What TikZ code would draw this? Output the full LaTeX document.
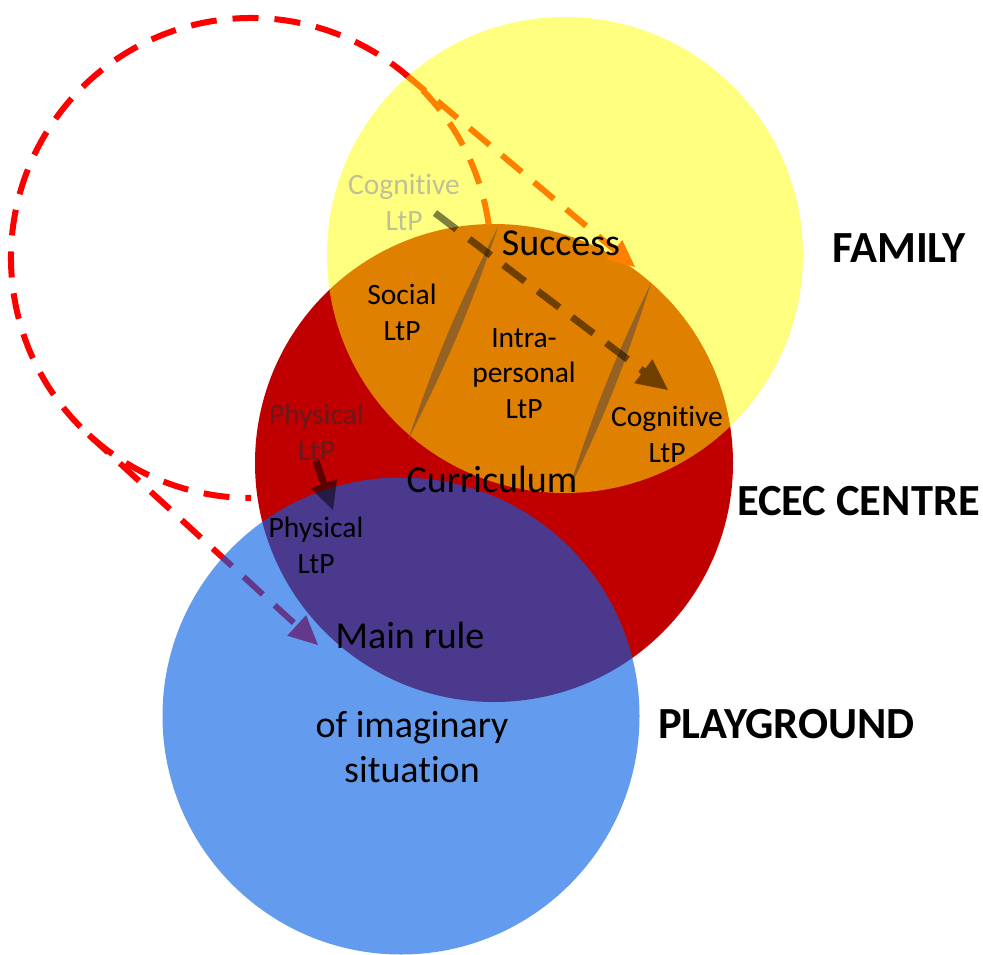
\documentclass[tikz,border=0pt]{standalone}
\usepackage{fontspec}
\setmainfont{Carlito}[Ligatures=NoCommon]
\usetikzlibrary{arrows.meta,calc}
\definecolor{ececred}{RGB}{192,0,0}
\definecolor{famyellow}{RGB}{255,255,0}
\definecolor{playblue}{RGB}{0,94,230}
\definecolor{loopred}{RGB}{255,0,0}
\definecolor{lensbrown}{RGB}{150,98,35}
\definecolor{fadedgrey}{RGB}{192,192,152}
\definecolor{fadedred}{RGB}{105,25,30}
\begin{document}
\begin{tikzpicture}[x=1pt,y=-1pt,
  setting/.style={circle,inner sep=0pt,minimum size=#1},
  redline/.style={draw=loopred,line width=6pt,dash pattern=on 26pt off 16pt},
  darkline/.style={draw=black,line width=7pt,opacity=0.5,dash pattern=on 27pt off 16pt},
  lens/.style={fill=lensbrown},
  small/.style={font=\fontsize{29.5}{35.5}\selectfont,align=center,inner sep=0pt,anchor=base},
  big/.style={font=\fontsize{38}{45}\selectfont,align=center,inner sep=0pt,anchor=base},
  place/.style={font=\fontsize{44.5}{52}\selectfont\bfseries,inner sep=0pt,anchor=base west}]

\useasboundingbox (0,0) rectangle (983,955);
\fill[white] (0,0) rectangle (983,955);

% ECEC centre (opaque base layer)
\node[setting=478pt,fill=ececred] (centre) at (494,463) {};

% dashed red loop and its two tangent arrows
\coordinate (L) at (251,258);
\coordinate (T1) at (405.3,74.2);
\coordinate (T2) at (88.9,434.9);
\coordinate (tipA) at (635,267);
\coordinate (tipB) at (318,645);
\draw[redline] ($(L)+(-8:240)$) arc[start angle=-8,end angle=-270,radius=240];
\draw[redline,-{Triangle[length=27pt,width=25pt,line width=0pt]}] (T1) -- (tipA);
\draw[redline,-{Triangle[length=29pt,width=28pt,line width=0pt]}] (T2) -- (tipB);

% playground and family (translucent)
\node[setting=477pt,fill=playblue,fill opacity=0.61] (playground) at (401,716) {};
\node[setting=476pt,fill=famyellow,fill opacity=0.5] (family) at (565,255) {};

% thin dividers inside the family/centre overlap
\coordinate (lensAt) at (498,227);
\coordinate (lensAb) at (408,440);
\coordinate (lensBt) at (651,283);
\coordinate (lensBb) at (568,492);
\fill[lens] (lensAt) to[bend left=4] (lensAb) to[bend left=4] (lensAt);
\fill[lens] (lensBt) to[bend left=4] (lensBb) to[bend left=4] (lensBt);

% labels (anchored at the baseline of their last line)
\node[small,text=fadedgrey] (cogup) at (404,230) {Cognitive\\LtP};
\node[small] (social) at (402,340) {Social\\LtP};
\node[small] (intra) at (524,418) {Intra-\\personal\\LtP};
\node[small] (cogdown) at (667,462) {Cognitive\\LtP};
\node[small,text=fadedred] (physup) at (316.5,460) {Physical\\LtP};
\node[small] (physdown) at (316,573) {Physical\\LtP};
\node[big] (success) at (561,255) {Success};
\node[big] (curriculum) at (492,492) {Curriculum};
\node[big] (mainrule) at (410,648) {Main rule};
\node[big] (imag) at (412,782) {of imaginary\\situation};
\node[place] (famlabel) at (832,262) {FAMILY};
\node[place] (centrelabel) at (737,515) {ECEC CENTRE};
\node[place] (playlabel) at (658,738) {PLAYGROUND};

% translucent dark arrows
\coordinate (cogA) at (435,213);
\coordinate (cogB) at (668,390);
\coordinate (physA) at (316,461);
\coordinate (physB) at (333,510);
\draw[darkline,-{Triangle[length=31pt,width=30pt,line width=0pt]}] (cogA) -- (cogB);
\draw[darkline,-{Triangle[length=28pt,width=28pt,line width=0pt]}] (physA) -- (physB);
\end{tikzpicture}
\end{document}
